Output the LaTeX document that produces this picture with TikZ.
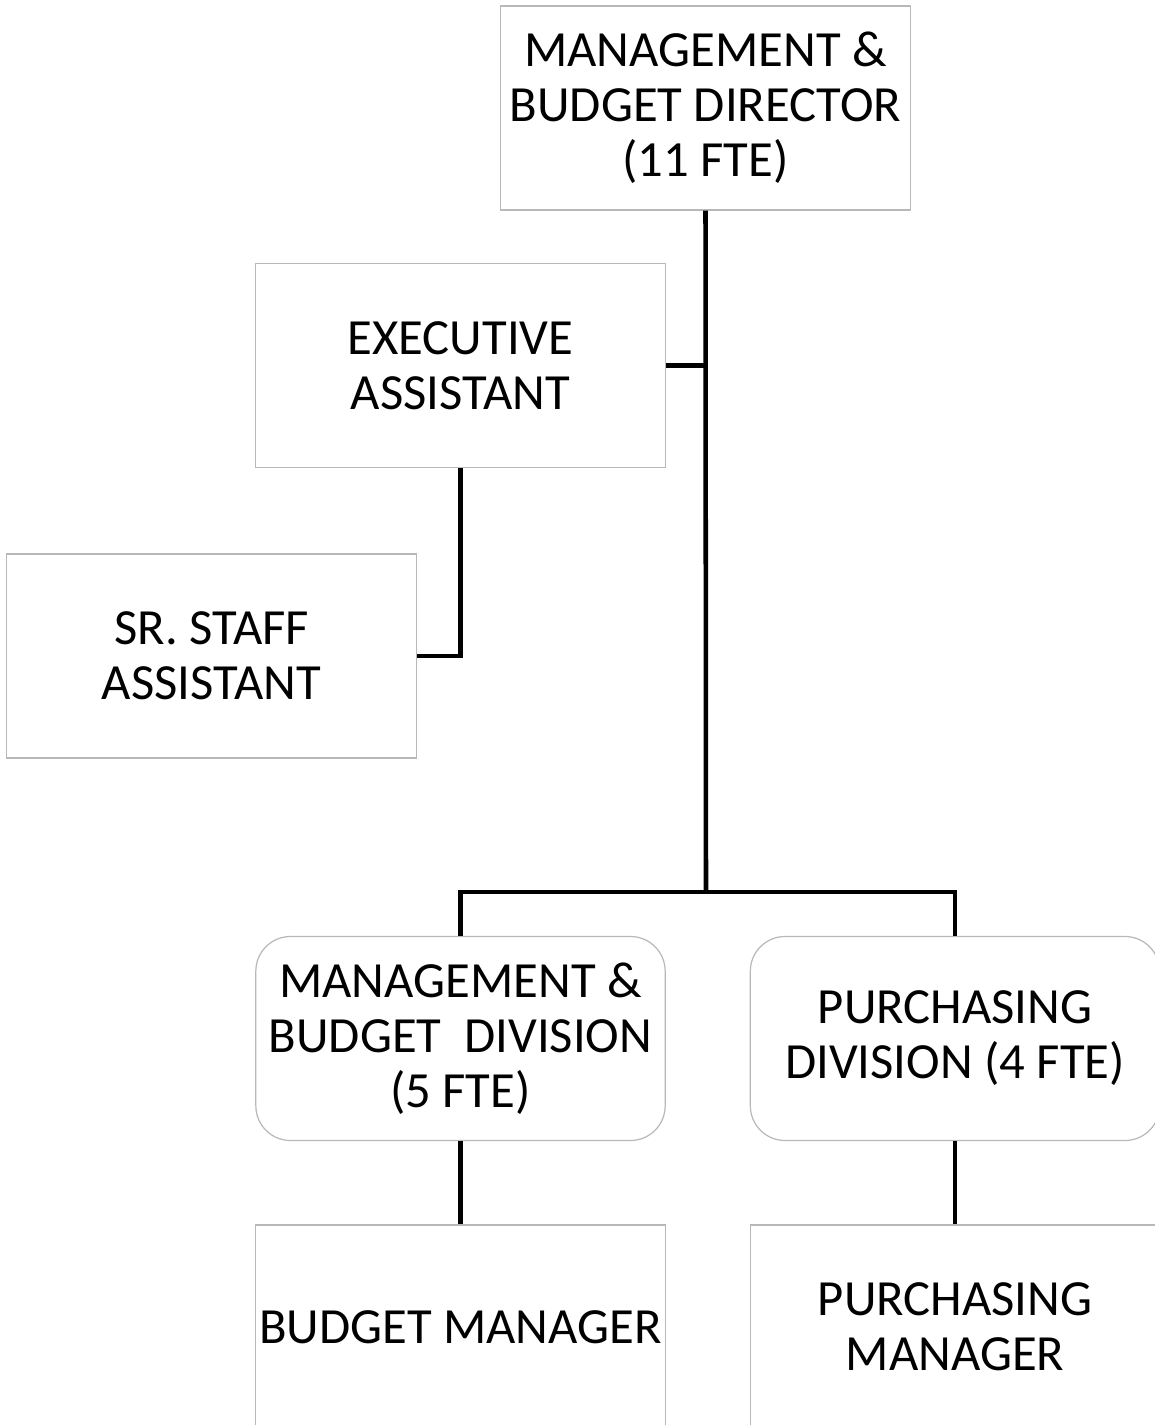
\documentclass[tikz,border=0pt]{standalone}
\usepackage{fontspec}
\setmainfont{Carlito}
\begin{document}
\begin{tikzpicture}[x=0.75pt,y=-0.75pt,
  box/.style={draw=black!28,line width=0.9pt,fill=white,minimum width=307pt,minimum height=153pt,align=center,inner sep=0pt,
    font=\fontsize{38}{41.25}\selectfont},
  rbox/.style={box,rounded corners=26pt},
  conn/.style={line width=3.4pt,draw=black}]
\useasboundingbox (0,0) rectangle (1154,1425);
\node[box] (dir) at (705.5,108) {MANAGEMENT \&\\BUDGET DIRECTOR\\(11 FTE)};
\node[box] (exec) at (460.5,365.5) {EXECUTIVE\\ASSISTANT};
\node[box] (sr) at (211.5,656) {SR. STAFF\\ASSISTANT};
\node[rbox] (mbd) at (460.5,1038.5) {MANAGEMENT \&\\BUDGET\ \ DIVISION\\(5 FTE)};
\node[rbox] (pd) at (955,1038.5) {PURCHASING\\DIVISION (4 FTE)};
\node[box] (bm) at (460.5,1327) {BUDGET MANAGER};
\node[box] (pm) at (955,1327) {PURCHASING\\MANAGER};
\coordinate (j) at (706,892);
\draw[conn] (dir.south) -- (j);
\draw[conn] (exec.east) -- (exec.east -| j);
\draw[conn] (exec.south) |- (sr.east);
\draw[conn] (j) -| (mbd.north);
\draw[conn] (j) -| (pd.north);
\draw[conn] (mbd.south) -- (bm.north);
\draw[conn] (pd.south) -- (pm.north);
\end{tikzpicture}
\end{document}
